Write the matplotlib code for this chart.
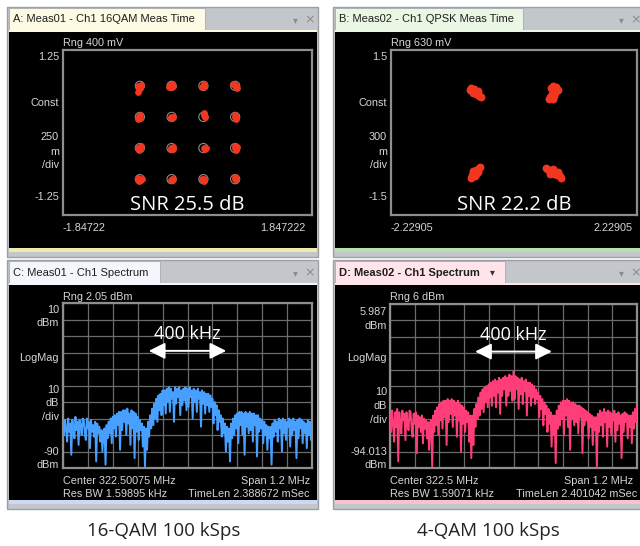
import matplotlib
matplotlib.use("Agg")
import matplotlib.pyplot as plt
from matplotlib.patches import Rectangle
import numpy as np

W, H = 640, 546

qam16_ref = [-0.707, -0.236, 0.236, 0.707]
qam16_i = [-0.72, -0.74, -0.70, -0.73, -0.69, -0.25, -0.22, -0.26, -0.23, -0.27,
           0.23, 0.25, 0.24, 0.22, 0.67, 0.72, 0.74, 0.71,
           -0.72, -0.70, -0.73, -0.71, -0.24, -0.22, -0.25, 0.25, 0.26, 0.24,
           0.71, 0.72, 0.70,
           -0.71, -0.73, -0.69, -0.72, -0.24, -0.22, -0.25, -0.21, 0.25, 0.27, 0.26,
           0.71, 0.73, 0.72, 0.70,
           -0.73, -0.70, -0.72, -0.68, -0.74, -0.23, -0.25, -0.21, 0.24, 0.22, 0.25,
           0.70, 0.72, 0.71]
qam16_q = [0.66, 0.62, 0.68, 0.70, 0.72, 0.69, 0.70, 0.72, 0.73, 0.69,
           0.71, 0.70, 0.73, 0.69, 0.73, 0.69, 0.68, 0.72,
           0.25, 0.22, 0.21, 0.26, 0.23, 0.24, 0.22, 0.27, 0.24, 0.29,
           0.24, 0.21, 0.26,
           -0.22, -0.24, -0.21, -0.27, -0.23, -0.22, -0.25, -0.25, -0.24, -0.23, -0.25,
           -0.24, -0.22, -0.26, -0.21,
           -0.69, -0.72, -0.74, -0.71, -0.70, -0.70, -0.72, -0.71, -0.71, -0.70, -0.73,
           -0.70, -0.71, -0.68]

qpsk_i = [-0.80, -0.76, -0.72, -0.68, -0.64, -0.75, -0.70, -0.66, -0.60, -0.78, -0.72, -0.66,
          0.70, 0.76, 0.80, 0.72, 0.68, 0.66, 0.70, 0.74, 0.78, 0.64, 0.73, 0.67,
          -0.64, -0.68, -0.72, -0.76, -0.70, -0.66, -0.74, -0.62, -0.78, -0.69,
          0.60, 0.64, 0.68, 0.72, 0.78, 0.84, 0.66, 0.74, 0.58, 0.85, 0.70, 0.80]
qpsk_q = [0.78, 0.76, 0.74, 0.70, 0.66, 0.72, 0.76, 0.71, 0.65, 0.80, 0.79, 0.75,
          0.84, 0.82, 0.78, 0.76, 0.70, 0.64, 0.60, 0.72, 0.79, 0.60, 0.66, 0.80,
          -0.64, -0.68, -0.72, -0.78, -0.80, -0.72, -0.70, -0.63, -0.82, -0.76,
          -0.66, -0.68, -0.72, -0.76, -0.78, -0.80, -0.76, -0.72, -0.64, -0.82, -0.66, -0.72]

# ---- spectrum traces, dBm every 5 kHz from -600 to +600 kHz ----
freq_khz = np.arange(-600, 601, 5)
spec_c = [-62, -70, -61, -66, -74, -60, -68, -63, -82, -61, -65, -72, -59, -67, -62, -76, -61, -64, -70, -60,
          -61, -69, -73, -60, -66, -62, -78, -61, -68, -64, -71, -62, -86, -63, -69, -65, -74, -67, -80, -68,
          -66, -88, -64, -72, -62, -69, -60, -75, -59, -66, -58, -71, -57, -64, -56, -79, -56, -67, -55, -62,
          -55, -70, -54, -63, -57, -76, -55, -66, -56, -84, -57, -68, -59, -73, -61, -67, -63, -77, -65, -89,
          -66, -79, -62, -71, -58, -66, -54, -64, -51, -60, -48, -62, -46, -55, -45, -58, -43, -52, -43, -57,
          -42, -50, -41, -56, -42, -48, -44, -62, -41, -51, -42, -47, -41, -58, -43, -52, -42, -49, -41, -55,
          -42, -53, -41, -47, -43, -60, -42, -50, -43, -56, -42, -48, -44, -65, -43, -51, -44, -57, -45, -52,
          -45, -56, -46, -53, -48, -63, -50, -58, -52, -67, -55, -62, -58, -71, -60, -69, -63, -80, -65, -74,
          -66, -86, -63, -72, -60, -70, -58, -66, -57, -75, -56, -64, -56, -70, -57, -82, -56, -65, -57, -69,
          -56, -67, -57, -74, -57, -64, -58, -83, -58, -68, -60, -66, -61, -75, -62, -70, -64, -79, -65, -72,
          -65, -88, -63, -71, -61, -68, -62, -74, -60, -66, -61, -80, -60, -69, -61, -73, -62, -65, -60, -77,
          -61, -70, -60, -67, -62, -84, -61, -72, -60, -66, -61, -75, -62, -69, -63, -78, -61, -70, -62, -73,
          -62]
spec_d = [-61, -72, -59, -66, -78, -60, -69, -58, -90, -60, -67, -73, -59, -65, -61, -77, -60, -68, -71, -59,
          -60, -70, -75, -61, -67, -60, -85, -62, -69, -63, -72, -62, -79, -64, -70, -65, -76, -66, -83, -66,
          -65, -93, -62, -72, -59, -68, -57, -74, -55, -65, -54, -70, -53, -63, -53, -80, -52, -66, -53, -61,
          -52, -69, -53, -62, -54, -75, -53, -65, -55, -84, -56, -67, -57, -72, -59, -66, -60, -78, -62, -88,
          -62, -80, -58, -69, -55, -64, -51, -62, -48, -58, -46, -60, -45, -54, -44, -57, -43, -51, -42, -56,
          -41, -50, -40, -57, -41, -48, -39, -61, -40, -50, -39, -46, -38, -56, -39, -50, -37, -47, -38, -53,
          -35, -52, -38, -46, -39, -58, -40, -49, -39, -55, -41, -47, -40, -62, -42, -50, -42, -56, -43, -51,
          -44, -55, -46, -52, -48, -63, -50, -58, -52, -68, -54, -61, -56, -72, -58, -67, -60, -81, -62, -74,
          -62, -91, -59, -70, -56, -68, -54, -64, -53, -74, -53, -62, -52, -69, -53, -83, -54, -64, -54, -68,
          -55, -66, -56, -73, -56, -63, -57, -85, -58, -68, -59, -65, -60, -76, -61, -69, -62, -80, -63, -71,
          -63, -94, -61, -72, -59, -68, -60, -75, -58, -66, -60, -81, -59, -69, -60, -74, -61, -65, -59, -78,
          -61, -71, -60, -67, -62, -88, -61, -72, -60, -66, -61, -76, -62, -69, -62, -79, -60, -70, -58, -66,
          -56]

RED = '#f2361f'
LABEL = dict(color='#d6d6d6', fontsize=7.8, family='Liberation Sans')

fig = plt.figure(figsize=(W / 100, H / 100), dpi=100)
fig.patch.set_facecolor('white')
bg = fig.add_axes([0, 0, 1, 1])
bg.set_xlim(0, W)
bg.set_ylim(H, 0)
bg.axis('off')


def px_axes(x0, y0, x1, y1):
    """axes placed in pixel coords of the screenshot (y going down)"""
    ax = fig.add_axes([x0 / W, 1 - y1 / H, (x1 - x0) / W, (y1 - y0) / H])
    ax.set_facecolor('black')
    ax.set_xticks([])
    ax.set_yticks([])
    for s in ax.spines.values():
        s.set_color('#8e8e8e')
        s.set_linewidth(1.6)
    return ax


def panel(x0, y0, x1, y1, tab_x1, title, tab_col, strip_col, bold=False):
    bg.add_patch(Rectangle((x0, y0), x1 - x0, y1 - y0, fc='#c3c6cb', ec='#9c9fa4', lw=1))
    bg.add_patch(Rectangle((x0 + 2, y0 + 1), tab_x1 - x0 - 2, 22, fc=tab_col, ec='#a8abb0', lw=0.6))
    bg.add_patch(Rectangle((x0 + 2, y0 + 23), x1 - x0 - 3, 2, fc=tab_col, ec='none'))
    bg.add_patch(Rectangle((x0 + 2, y0 + 25), x1 - x0 - 3, y1 - y0 - 34, fc='black', ec='none'))
    bg.add_patch(Rectangle((x0 + 2, y1 - 9), x1 - x0 - 3, 4, fc=strip_col, ec='none'))
    bg.text(x0 + 6, y0 + 12.5, title, ha='left', va='center', color='#1e1e1e',
            fontsize=8, family='Liberation Sans', fontweight='bold' if bold else 'normal')
    bg.text(x0 + 288, y0 + 13, '\u25be', ha='center', va='center', color='#8a8a8a', fontsize=7)
    bg.text(x0 + 303, y0 + 12.5, '\u00d7', ha='center', va='center', color='#8a8a8a', fontsize=9)


def side_labels(rows, x):
    for txt, y in rows:
        bg.text(x, y, txt, ha='right', va='center', **LABEL)


# ---- window chrome ----
panel(7, 7, 318, 257, 205, 'A: Meas01 - Ch1 16QAM Meas Time', '#fdfbe4', '#efe9b4')
panel(333, 7, 641, 257, 523, 'B: Meas02 - Ch1 QPSK Meas Time', '#eaf7e4', '#b7e2ad')
panel(7, 260, 318, 509, 160, 'C: Meas01 - Ch1 Spectrum', '#f3f7fd', '#c9daf2')
panel(333, 260, 641, 509, 505, 'D: Meas02 - Ch1 Spectrum', '#ffe4ea', '#f6c2ce', bold=True)
bg.text(492, 272, '\u25be', ha='center', va='center', color='#333333', fontsize=7)

# ---- A: 16QAM constellation ----
axA = px_axes(63, 50, 312, 215)
axA.set_xlim(-1.847222, 1.847222)
axA.set_ylim(-1.25, 1.25)
ref_i = [i for i in qam16_ref for q in qam16_ref]
ref_q = [q for i in qam16_ref for q in qam16_ref]
axA.scatter(ref_i, ref_q, s=44, facecolors='none', edgecolors='#8c8c8c', lw=0.8, zorder=2)
axA.scatter(qam16_i, qam16_q, s=24, color=RED, lw=0, zorder=3)
axA.text(0, -1.1, 'SNR 25.5 dB', ha='center', va='center', color='white',
         fontsize=14.5, family='Open Sans')
bg.text(63, 43, 'Rng 400 mV', ha='left', va='center', **LABEL)
side_labels([('1.25', 57), ('Const', 103), ('250', 137), ('m', 152),
             ('/div', 165), ('-1.25', 197)], 59)
bg.text(63, 228, '-1.84722', ha='left', va='center', **LABEL)
bg.text(305, 228, '1.847222', ha='right', va='center', **LABEL)

# ---- B: QPSK constellation ----
axB = px_axes(391, 50, 637, 215)
axB.set_xlim(-2.22905, 2.22905)
axB.set_ylim(-1.5, 1.5)
axB.scatter(qpsk_i, qpsk_q, s=32, color=RED, lw=0)
axB.text(0, -1.32, 'SNR 22.2 dB', ha='center', va='center', color='white',
         fontsize=14.5, family='Open Sans')
bg.text(391, 43, 'Rng 630 mV', ha='left', va='center', **LABEL)
side_labels([('1.5', 57), ('Const', 103), ('300', 137), ('m', 152),
             ('/div', 165), ('-1.5', 197)], 387)
bg.text(391, 228, '-2.22905', ha='left', va='center', **LABEL)
bg.text(633, 228, '2.22905', ha='right', va='center', **LABEL)


def spectrum(ax, trace, color, top):
    ax.set_xlim(-600, 600)
    ax.set_ylim(top - 100, top)
    ax.set_xticks(np.linspace(-600, 600, 11))
    ax.set_yticks(np.linspace(top - 100, top, 11))
    ax.tick_params(length=0, labelbottom=False, labelleft=False)
    ax.grid(True, color='#6c6c6c', lw=0.9)
    ax.set_axisbelow(True)
    ax.plot(freq_khz, trace, color=color, lw=1.4, zorder=3)
    ax.annotate('', xy=(200, top - 29), xytext=(-200, top - 29),
                arrowprops=dict(arrowstyle='<|-|>,head_length=0.7,head_width=0.35',
                                color='white', lw=1.4, mutation_scale=14), zorder=4)
    ax.text(0, top - 19, '400 kHz', ha='center', va='center', color='white',
            fontsize=13, family='Open Sans', zorder=4)


# ---- C: 16QAM spectrum ----
axC = px_axes(63, 303, 312, 468)
spectrum(axC, spec_c, '#47a0ff', 10)
bg.text(63, 297, 'Rng 2.05 dBm', ha='left', va='center', **LABEL)
side_labels([('10', 310), ('dBm', 323), ('LogMag', 358), ('10', 390), ('dB', 403),
             ('/div', 417), ('-90', 452), ('dBm', 465)], 59)
bg.text(63, 481, 'Center 322.50075 MHz', ha='left', va='center', **LABEL)
bg.text(310, 481, 'Span 1.2 MHz', ha='right', va='center', **LABEL)
bg.text(63, 494, 'Res BW 1.59895 kHz', ha='left', va='center', **LABEL)
bg.text(310, 494, 'TimeLen 2.388672 mSec', ha='right', va='center', **LABEL)

# ---- D: QPSK spectrum ----
axD = px_axes(390, 304, 637, 468)
spectrum(axD, spec_d, '#ff3d78', 5.987)
bg.text(390, 297, 'Rng 6 dBm', ha='left', va='center', **LABEL)
side_labels([('5.987', 312), ('dBm', 326), ('LogMag', 358), ('10', 392), ('dB', 406),
             ('/div', 420), ('-94.013', 452), ('dBm', 465)], 387)
bg.text(390, 481, 'Center 322.5 MHz', ha='left', va='center', **LABEL)
bg.text(633, 481, 'Span 1.2 MHz', ha='right', va='center', **LABEL)
bg.text(390, 494, 'Res BW 1.59071 kHz', ha='left', va='center', **LABEL)
bg.text(637, 494, 'TimeLen 2.401042 mSec', ha='right', va='center', **LABEL)

# ---- captions ----
bg.text(164, 531, '16-QAM 100 kSps', ha='center', va='center', color='#222222',
        fontsize=13.5, family='Open Sans')
bg.text(488, 531, '4-QAM 100 kSps', ha='center', va='center', color='#222222',
        fontsize=13.5, family='Open Sans')

fig.savefig('out.png', dpi=100)
